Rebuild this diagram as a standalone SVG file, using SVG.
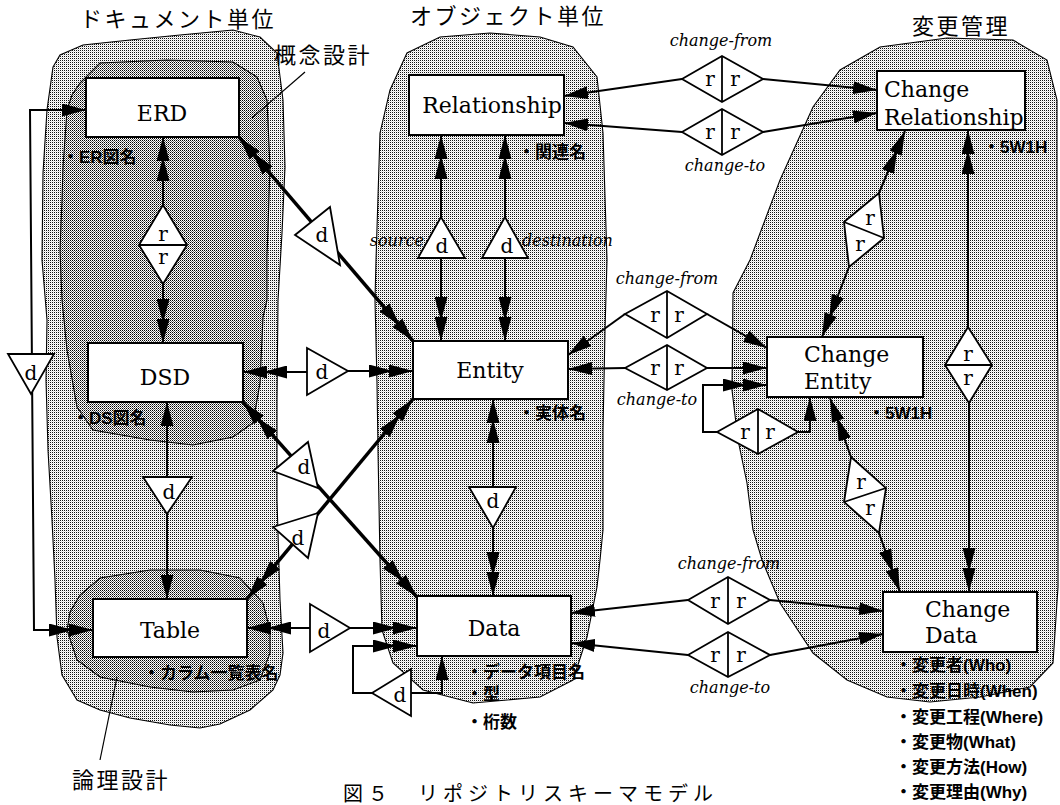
<svg xmlns="http://www.w3.org/2000/svg" width="1060" height="805" viewBox="0 0 1060 805">
<defs>
<pattern id="pl" width="2" height="2" patternUnits="userSpaceOnUse"><rect width="2" height="2" fill="#fff"/><rect width="1" height="1" fill="#111"/><rect x="1" y="1" width="1" height="1" fill="#dcdcdc"/></pattern>
<pattern id="pd" width="2" height="2" patternUnits="userSpaceOnUse"><rect width="2" height="2" fill="#fff"/><rect width="1" height="1" fill="#000"/><rect x="1" y="1" width="1" height="1" fill="#6a6a6a"/></pattern>
<marker id="a1" viewBox="0 0 24 13" refX="24" refY="6.5" markerWidth="24" markerHeight="13" orient="auto-start-reverse" markerUnits="userSpaceOnUse"><path d="M0,0 L24,6.5 L0,13 z"/></marker>
<marker id="a2" viewBox="0 0 44 13" refX="44" refY="6.5" markerWidth="44" markerHeight="13" orient="auto-start-reverse" markerUnits="userSpaceOnUse"><path d="M0,0 L24,6.5 L0,13 z M20,0 L44,6.5 L20,13 z"/></marker>
<style>
.bo{fill:url(#pl);stroke:#000;stroke-width:1.1}
.bi{fill:url(#pd);stroke:#000;stroke-width:1.1}
.n rect{fill:#fff;stroke:#000;stroke-width:2}
.lbl{font-family:"DejaVu Serif",serif;font-size:22px}
.mid{text-anchor:middle}
.sym{fill:#fff;stroke:#000;stroke-width:1.8;stroke-linejoin:miter}
.sl{font-family:"DejaVu Serif",serif;font-size:20px;text-anchor:middle}
.c{stroke:#000;stroke-width:2;fill:none}
.t{stroke-width:3.5}
.it{font-family:"DejaVu Serif",serif;font-style:italic;font-size:16px}
.jp{font-family:"Liberation Sans","Noto Sans CJK JP",sans-serif;font-size:17px;font-weight:bold}
.ti{font-family:"Noto Sans CJK JP",sans-serif;font-size:22px;letter-spacing:2.5px}
.ld{stroke:#000;stroke-width:1.2;fill:none}
</style>
</defs>
<rect width="1060" height="805" fill="#fff"/>

<g id="regions">
<path class="bo" d="M53,67 L60,55 L83,45 L130,40 L180,35 L233,30 L260,37 L277,53 L283,100 L285,167 L282,233 L278,300 L277,400 L277,500 L280,600 L283,653 L280,675 L273,690 L250,710 L220,724 L200,728 L170,725 L130,718 L100,710 L77,700 L62,675 L57,637 L55,580 L52,520 L48,450 L46,380 L47,320 L42,260 L43,173 L47,110 Z"/>
<path class="bi" d="M67,110 L72,95 L80,83 L100,63 L167,60 L233,62 L257,77 L267,100 L270,167 L267,257 L267,300 L263,317 L260,383 L253,423 L233,437 L193,445 L150,440 L93,430 L77,407 L67,350 L62,300 L60,250 L62,200 L63,167 Z"/>
<path class="bi" d="M67,630 L70,612 L80,595 L100,578 L150,570 L200,570 L240,578 L263,603 L270,630 L270,653 L260,680 L233,690 L193,692 L150,687 L100,677 L77,660 Z"/>
<path class="bo" d="M380,133 L390,90 L407,53 L440,37 L490,33 L540,37 L573,47 L597,77 L603,133 L607,260 L605,330 L603,430 L603,530 L600,560 L597,587 L587,637 L573,680 L540,697 L473,703 L423,690 L393,663 L382,630 L380,560 L378,450 L377,383 L375,300 L376,260 Z"/>
<path class="bo" d="M750,260 L765,220 L780,180 L813,107 L840,70 L880,47 L947,38 L1013,40 L1047,60 L1057,100 L1057,250 L1058,400 L1058,530 L1058,587 L1053,663 L1030,687 L980,697 L930,702 L887,697 L847,680 L813,653 L780,603 L762,560 L753,530 L747,483 L738,440 L732,390 L733,293 Z"/>
</g>

<g id="titles">
<text class="ti" x="80" y="27">ドキュメント単位</text>
<text class="ti" x="410" y="24">オブジェクト単位</text>
<text class="ti" x="912" y="34">変更管理</text>
<text class="ti" x="274" y="63">概念設計</text>
<text class="ti" x="72" y="788">論理設計</text>
<path class="ld" d="M305,72 L252,118"/>
<path class="ld" d="M100,760 L117,677"/>
<text class="ti" x="343" y="801" style="font-size:20px;letter-spacing:5px">図５　リポジトリスキーマモデル</text>
</g>

<g id="connectors">
<path class="c" d="M86,110 L30,110 L34,630 L93,630" marker-start="url(#a1)" marker-end="url(#a2)"/>
<path class="c" d="M163,205 L163,137" marker-end="url(#a2)"/>
<path class="c" d="M163,283 L163,343" marker-end="url(#a2)"/>
<path class="c t" d="M239,137 L413,341" marker-start="url(#a2)" marker-end="url(#a2)"/>
<path class="c" d="M307,372 L243,372" marker-end="url(#a2)"/>
<path class="c" d="M347,371 L413,371" marker-end="url(#a2)"/>
<path class="c t" d="M243,402 L417,597" marker-start="url(#a2)" marker-end="url(#a2)"/>
<path class="c t" d="M247,599 L413,399" marker-start="url(#a2)" marker-end="url(#a2)"/>
<path class="c" d="M167,477 L167,402" marker-end="url(#a1)"/>
<path class="c" d="M167,513 L167,599" marker-end="url(#a1)"/>
<path class="c" d="M310,628 L247,628" marker-end="url(#a2)"/>
<path class="c" d="M350,628 L417,628" marker-end="url(#a2)"/>
<path class="c" d="M372,693 L353,693 L353,646 L417,646" marker-end="url(#a2)"/>
<path class="c" d="M411,693 L442,693 L442,656" marker-end="url(#a1)"/>
<path class="c" d="M493,487 L493,399" marker-end="url(#a2)"/>
<path class="c" d="M493,528 L493,596" marker-end="url(#a2)"/>
<path class="c" d="M441,217 L441,135" marker-end="url(#a2)"/>
<path class="c" d="M441,258 L441,341" marker-end="url(#a2)"/>
<path class="c" d="M505,217 L505,135" marker-end="url(#a2)"/>
<path class="c" d="M505,258 L505,341" marker-end="url(#a2)"/>
<path class="c" d="M682,79 L564,96" marker-end="url(#a1)"/>
<path class="c" d="M763,79 L877,90" marker-end="url(#a1)"/>
<path class="c" d="M682,132 L564,123" marker-end="url(#a1)"/>
<path class="c" d="M763,132 L877,113" marker-end="url(#a1)"/>
<path class="c" d="M625,314 L568,355" marker-end="url(#a1)"/>
<path class="c" d="M707,314 L767,348" marker-end="url(#a1)"/>
<path class="c" d="M625,368 L568,369" marker-end="url(#a1)"/>
<path class="c" d="M707,368 L767,368" marker-end="url(#a1)"/>
<path class="c" d="M717,432 L703,432 L703,385 L767,385" marker-end="url(#a2)"/>
<path class="c" d="M798,432 L810,432 L810,397" marker-end="url(#a1)"/>
<path class="c" d="M879,193 L905,131" marker-end="url(#a2)"/>
<path class="c" d="M849,267 L822,337" marker-end="url(#a2)"/>
<path class="c" d="M851,457 L830,398" marker-end="url(#a2)"/>
<path class="c" d="M879,533 L900,592" marker-end="url(#a2)"/>
<path class="c" d="M968,327 L968,130" marker-end="url(#a2)"/>
<path class="c" d="M969,403 L969,592" marker-end="url(#a2)"/>
<path class="c" d="M688,600 L571,613" marker-end="url(#a1)"/>
<path class="c" d="M770,600 L883,611" marker-end="url(#a1)"/>
<path class="c" d="M688,655 L571,643" marker-end="url(#a1)"/>
<path class="c" d="M770,655 L883,634" marker-end="url(#a1)"/>
</g>

<g id="symbols">
<g id="d-left"><polygon class="sym" points="8,354 54,354 31,394"/><text class="sl" x="31" y="380">d</text></g>
<g id="r-erd-dsd"><polygon class="sym" points="163,205 187,245 163,284 139,245"/><line class="sym" x1="139" y1="245" x2="187" y2="245"/><text class="sl" x="163" y="241">r</text><text class="sl" x="163" y="264">r</text></g>
<g id="d-erd-entity"><polygon class="sym" points="295,235 330,207 340,265"/><text class="sl" x="322" y="242">d</text></g>
<g id="d-dsd-entity"><polygon class="sym" points="307,348 307,395 348,371"/><text class="sl" x="322" y="379">d</text></g>
<g id="d-dsd-data"><polygon class="sym" points="273,471 308,442 318,488"/><text class="sl" x="304" y="474">d</text></g>
<g id="d-table-entity"><polygon class="sym" points="273,527 318,513 308,558"/><text class="sl" x="298" y="545">d</text></g>
<g id="d-dsd-table"><polygon class="sym" points="143,477 192,477 167,514"/><text class="sl" x="169" y="499">d</text></g>
<g id="d-table-data"><polygon class="sym" points="310,604 310,652 350,628"/><text class="sl" x="324" y="638">d</text></g>
<g id="d-data-self"><polygon class="sym" points="372,693 411,669 411,716"/><text class="sl" x="400" y="702">d</text></g>
<g id="d-entity-data"><polygon class="sym" points="469,487 516,487 493,528"/><text class="sl" x="493" y="508">d</text></g>
<g id="d-source"><polygon class="sym" points="441,217 418,258 465,258"/><text class="sl" x="442" y="253">d</text></g>
<g id="d-destination"><polygon class="sym" points="505,217 482,258 528,258"/><text class="sl" x="507" y="253">d</text></g>
<g id="r-rel-from"><polygon class="sym" points="682,79 722,56 763,79 722,102"/><line class="sym" x1="722" y1="56" x2="722" y2="102"/><text class="sl" x="710" y="86">r</text><text class="sl" x="735" y="86">r</text></g>
<g id="r-rel-to"><polygon class="sym" points="682,132 722,109 763,132 722,155"/><line class="sym" x1="722" y1="109" x2="722" y2="155"/><text class="sl" x="710" y="139">r</text><text class="sl" x="735" y="139">r</text></g>
<g id="r-ent-from"><polygon class="sym" points="625,314 667,291 707,314 667,338"/><line class="sym" x1="667" y1="291" x2="667" y2="338"/><text class="sl" x="655" y="322">r</text><text class="sl" x="679" y="322">r</text></g>
<g id="r-ent-to"><polygon class="sym" points="625,368 667,345 707,368 667,390"/><line class="sym" x1="667" y1="345" x2="667" y2="390"/><text class="sl" x="655" y="375">r</text><text class="sl" x="679" y="375">r</text></g>
<g id="r-ent-self"><polygon class="sym" points="717,432 758,409 798,432 758,454"/><line class="sym" x1="758" y1="409" x2="758" y2="454"/><text class="sl" x="745" y="439">r</text><text class="sl" x="770" y="439">r</text></g>
<g id="r-crel-cent"><polygon class="sym" points="879,193 884,238 849,267 844,222"/><line class="sym" x1="844" y1="222" x2="884" y2="238"/><text class="sl" x="870" y="225">r</text><text class="sl" x="860" y="251">r</text></g>
<g id="r-cent-cdata"><polygon class="sym" points="851,457 886,488 879,533 844,502"/><line class="sym" x1="844" y1="502" x2="886" y2="488"/><text class="sl" x="861" y="489">r</text><text class="sl" x="870" y="515">r</text></g>
<g id="r-crel-cdata"><polygon class="sym" points="968,327 992,365 969,403 945,365"/><line class="sym" x1="945" y1="365" x2="992" y2="365"/><text class="sl" x="968" y="361">r</text><text class="sl" x="968" y="385">r</text></g>
<g id="r-data-from"><polygon class="sym" points="688,600 728,577 770,600 728,624"/><line class="sym" x1="728" y1="577" x2="728" y2="624"/><text class="sl" x="715" y="608">r</text><text class="sl" x="741" y="608">r</text></g>
<g id="r-data-to"><polygon class="sym" points="688,655 728,632 770,655 728,677"/><line class="sym" x1="728" y1="632" x2="728" y2="677"/><text class="sl" x="715" y="662">r</text><text class="sl" x="741" y="662">r</text></g>
</g>

<g id="nodes">
<g id="erd" class="n"><rect x="86" y="78" width="153" height="59"/><text class="lbl mid" x="162" y="121">ERD</text></g>
<g id="dsd" class="n"><rect x="88" y="343" width="155" height="59"/><text class="lbl mid" x="165" y="385">DSD</text></g>
<g id="table" class="n"><rect x="93" y="599" width="154" height="58"/><text class="lbl mid" x="170" y="638">Table</text></g>
<g id="relationship" class="n"><rect x="409" y="75" width="155" height="60"/><text class="lbl mid" x="492" y="113">Relationship</text></g>
<g id="entity" class="n"><rect x="413" y="341" width="155" height="58"/><text class="lbl mid" x="490" y="378">Entity</text></g>
<g id="data" class="n"><rect x="417" y="596" width="154" height="60"/><text class="lbl mid" x="494" y="636">Data</text></g>
<g id="change-relationship" class="n"><rect x="877" y="71" width="148" height="59"/><text class="lbl" x="884" y="97">Change</text><text class="lbl" x="884" y="125">Relationship</text></g>
<g id="change-entity" class="n"><rect x="767" y="337" width="156" height="60"/><text class="lbl" x="804" y="362">Change</text><text class="lbl" x="804" y="389">Entity</text></g>
<g id="change-data" class="n"><rect x="883" y="592" width="154" height="60"/><text class="lbl" x="925" y="617">Change</text><text class="lbl" x="925" y="643">Data</text></g>
</g>

<g id="labels">
<text class="it" x="424" y="246" text-anchor="end">source</text>
<text class="it" x="522" y="246">destination</text>
<text class="it" x="721" y="46" text-anchor="middle">change-from</text>
<text class="it" x="725" y="171" text-anchor="middle">change-to</text>
<text class="it" x="667" y="284" text-anchor="middle">change-from</text>
<text class="it" x="657" y="405" text-anchor="middle">change-to</text>
<text class="it" x="729" y="569" text-anchor="middle">change-from</text>
<text class="it" x="730" y="693" text-anchor="middle">change-to</text>
<text class="jp" x="62" y="163">・ER図名</text>
<text class="jp" x="72" y="424">・DS図名</text>
<text class="jp" x="143" y="679">・カラム一覧表名</text>
<text class="jp" x="518" y="158">・関連名</text>
<text class="jp" x="518" y="419">・実体名</text>
<text class="jp" x="466" y="678">・データ項目名</text>
<text class="jp" x="466" y="700">・型</text>
<text class="jp" x="466" y="728">・桁数</text>
<text class="jp" x="983" y="153">・5W1H</text>
<text class="jp" x="868" y="419">・5W1H</text>
<text class="jp" x="895" y="671">・変更者(Who)</text>
<text class="jp" x="895" y="697">・変更日時(When)</text>
<text class="jp" x="895" y="723">・変更工程(Where)</text>
<text class="jp" x="895" y="748">・変更物(What)</text>
<text class="jp" x="895" y="773">・変更方法(How)</text>
<text class="jp" x="895" y="798">・変更理由(Why)</text>
</g>
</svg>
